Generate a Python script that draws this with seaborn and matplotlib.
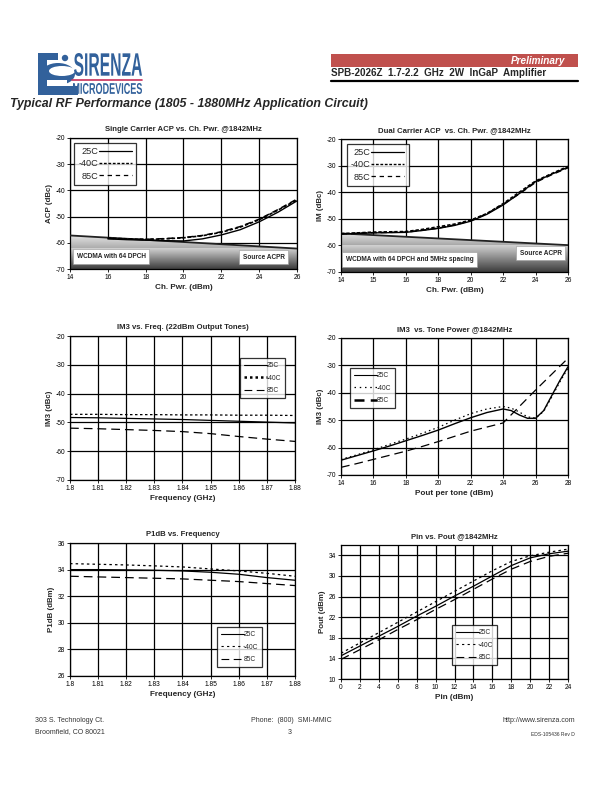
import numpy as np
import matplotlib
matplotlib.use("Agg")
import matplotlib.pyplot as plt
import seaborn as sns
from matplotlib.lines import Line2D
from matplotlib.patches import Rectangle, Polygon, Ellipse, Circle, PathPatch
from matplotlib.colors import LinearSegmentedColormap
from matplotlib.textpath import TextPath
from matplotlib.font_manager import FontProperties
from matplotlib.transforms import Affine2D

# ---- data ----
# single carrier ACP vs channel power
sc_x = [16, 17, 18, 19, 20, 21, 22, 23, 24, 25, 26]
sc_25 = [-58.5, -58.8, -59.0, -59.2, -59.3, -58.5, -57.0, -55.0, -52.0, -48.3, -44.0]
sc_m40 = [-58.2, -58.5, -58.7, -58.5, -58.1, -57.3, -56.0, -54.0, -51.2, -47.5, -43.6]
sc_85 = [-58.3, -58.6, -58.7, -58.4, -58.0, -57.2, -55.8, -53.8, -51.0, -47.3, -43.3]
sc_src_x = [14, 26]
sc_src = [-57.2, -62.2]

# dual carrier ACP (category axis)
dc_ticks = [14, 15, 16, 18, 20, 22, 24, 26]
dc_x = [14, 15, 16, 17, 18, 19, 20, 21, 22, 23, 24, 25, 26]
dc_25 = [-55.7, -55.3, -55.1, -54.4, -53.6, -52.5, -50.9, -48.3, -44.8, -40.5, -36.0, -33.2, -30.6]
dc_m40 = [-55.6, -55.0, -54.8, -54.0, -53.0, -52.0, -50.5, -48.0, -44.3, -40.0, -35.8, -33.0, -30.3]
dc_85 = [-55.7, -55.2, -55.0, -54.3, -53.5, -52.3, -50.7, -48.1, -44.5, -40.6, -36.3, -33.4, -30.8]
dc_src = [-55.5, -59.9]

# IM3 vs frequency
f_x = [1.80, 1.81, 1.82, 1.83, 1.84, 1.85, 1.86, 1.87, 1.88]
f_labels = ["1.8", "1.81", "1.82", "1.83", "1.84", "1.85", "1.86", "1.87", "1.88"]
im_25 = [-48.3, -48.4, -48.6, -48.8, -49.0, -49.3, -49.6, -49.9, -50.2]
im_m40 = [-47.2, -47.2, -47.3, -47.3, -47.4, -47.4, -47.5, -47.5, -47.6]
im_85 = [-52.0, -52.2, -52.5, -52.8, -53.2, -53.9, -54.9, -55.8, -56.6]

# IM3 vs tone power
tp_x = [14, 15, 16, 17, 18, 19, 20, 21, 22, 23, 24, 24.5, 25, 25.5, 26, 26.5, 27, 27.5, 28]
tp_25 = [-64.6, -62.9, -61.2, -59.4, -57.5, -55.6, -53.6, -51.3, -49.1, -47.2, -45.9,
         -46.5, -48.1, -49.3, -49.3, -46.5, -41.0, -35.5, -30.5]
tp_m40 = [-64.3, -62.6, -60.8, -58.8, -56.9, -54.8, -52.6, -50.0, -47.6, -45.9, -45.0,
          -45.6, -47.0, -48.8, -49.2, -46.8, -41.5, -36.0, -31.0]
tp_85 = [-67.2, -65.8, -64.3, -62.8, -61.3, -59.6, -57.8, -55.9, -54.0, -52.5, -51.0,
         -48.0, -45.0, -42.0, -39.0, -36.1, -33.2, -30.3, -27.4]

# P1dB vs frequency
p1_25 = [34.0, 34.0, 33.98, 33.95, 33.9, 33.8, 33.65, 33.4, 33.2]
p1_m40 = [34.45, 34.4, 34.35, 34.28, 34.2, 34.05, 33.9, 33.72, 33.5]
p1_85 = [33.5, 33.45, 33.4, 33.35, 33.3, 33.2, 33.1, 32.95, 32.8]

# Pout vs Pin
pin_x = [0, 2, 4, 6, 8, 10, 12, 14, 16, 18, 20, 22, 24]
po_25 = [14.5, 16.4, 18.3, 20.2, 22.2, 24.1, 26.1, 28.0, 30.0, 32.0, 33.5, 34.3, 34.8]
po_m40 = [15.0, 17.0, 19.0, 21.0, 23.0, 25.0, 27.0, 29.0, 31.0, 32.8, 33.9, 34.6, 35.2]
po_85 = [13.8, 15.7, 17.6, 19.6, 21.5, 23.5, 25.4, 27.4, 29.4, 31.3, 32.8, 33.8, 34.4]

temps = ["25C", "-40C", "85C"]

sns.set_style("white")
plt.rcParams["font.family"] = ["Liberation Sans", "DejaVu Sans"]
plt.rcParams["axes.unicode_minus"] = False

W, H = 612, 792
fig = plt.figure(figsize=(6.12, 7.92), dpi=100)

page = fig.add_axes([0, 0, 1, 1])
page.set_xlim(0, W)
page.set_ylim(H, 0)
page.axis("off")


def px_axes(l, t, r, b):
    return fig.add_axes([l / W, 1 - b / H, (r - l) / W, (b - t) / H])


def style_axes(ax, title, xlabel, ylabel):
    ax.set_title(title, fontsize=5.6, fontweight="bold", pad=5)
    ax.set_xlabel(xlabel, fontsize=5.9, fontweight="bold", labelpad=2)
    ax.set_ylabel(ylabel, fontsize=5.7, fontweight="bold", labelpad=2)
    ax.grid(True, color="black", lw=0.9)
    ax.set_axisbelow(True)
    for s in ax.spines.values():
        s.set_color("black")
        s.set_linewidth(0.9)
    ax.tick_params(labelsize=4.8, length=2, width=0.6, pad=1.5, direction="out",
                   bottom=True, left=True, colors="black")


def gradient(ax, x0, x1, y0, y1, c_top, c_bot, clip=None):
    cm = LinearSegmentedColormap.from_list("g", [c_bot, c_top])
    im = ax.imshow(np.linspace(0, 1, 200).reshape(-1, 1), extent=[x0, x1, y0, y1],
                   origin="lower", aspect="auto", cmap=cm, zorder=2, interpolation="bilinear")
    if clip is not None:
        im.set_clip_path(clip)
    return im


def top_legend(ax, styles, anchor):
    handles = [Line2D([], [], color="black", **st) for st in styles]
    lg = ax.legend(handles, temps, loc="upper left", bbox_to_anchor=anchor, markerfirst=False,
                   fontsize=6.6, handlelength=3.6, handletextpad=0.1, labelspacing=0.35,
                   borderpad=0.45, frameon=True, fancybox=False, borderaxespad=0)
    lg.get_frame().set_edgecolor("black")
    lg.get_frame().set_linewidth(0.9)
    lg.set_zorder(6)


def side_legend(ax, styles, anchor):
    handles = [Line2D([], [], color="black", **st) for st in styles]
    lg = ax.legend(handles, temps, loc="upper left", bbox_to_anchor=anchor,
                   fontsize=4.8, handlelength=3.4, handletextpad=0.0, labelspacing=0.85,
                   borderpad=0.6, frameon=True, fancybox=False, borderaxespad=0)
    lg.get_frame().set_edgecolor("black")
    lg.get_frame().set_linewidth(0.9)
    lg.set_zorder(6)


def box_text(ax, x, y, s, ha="left"):
    ax.text(x, y, s, fontsize=4.7, fontweight="bold", ha=ha, va="center", zorder=5,
            bbox=dict(boxstyle="square,pad=0.55", fc="white", ec="#999999", lw=0.4))


# ---- header ----
blue = "#32619b"
page.add_patch(Rectangle((38, 53), 9, 42, color=blue, lw=0))
page.add_patch(Rectangle((38, 53), 20, 7, color=blue, lw=0))
page.add_patch(Rectangle((38, 86), 40, 9, color=blue, lw=0))
page.add_patch(Ellipse((58, 74), 34, 22, color=blue, lw=0))
page.add_patch(Ellipse((62, 71), 26, 10, color="white", lw=0))
page.add_patch(Rectangle((47, 80), 20, 6, color="white", lw=0))
page.add_patch(Circle((65, 58), 3.2, color=blue, lw=0))


def stretched(s, x0, x1, ytop, ybot, color, weight="bold"):
    tp = TextPath((0, 0), s, size=10, prop=FontProperties(family="Liberation Sans", weight=weight))
    bb = tp.get_extents()
    sx = (x1 - x0) / bb.width
    sy = (ybot - ytop) / bb.height
    tr = Affine2D().translate(-bb.x0, -bb.y0).scale(sx, -sy).translate(x0, ybot) + page.transData
    page.add_patch(PathPatch(tp, transform=tr, color=color, lw=0))


stretched("SIRENZA", 74, 142, 53, 76, blue)
page.plot([72, 142], [79.5, 79.5], color="#c8305a", lw=1.2)
stretched("MICRODEVICES", 73, 142, 83, 94, blue)

page.add_patch(Rectangle((331, 54), 247, 13, color="#c0504d", lw=0))
page.text(565, 60.8, "Preliminary", color="white", fontsize=7.2, fontweight="bold",
          fontstyle="italic", ha="right", va="center")
page.text(331, 73.5, "SPB-2026Z  1.7-2.2  GHz  2W  InGaP  Amplifier", fontsize=7.1,
          fontweight="bold", ha="left", va="center")
page.plot([331, 578], [80.5, 80.5], color="black", lw=1.6)
page.text(10, 104, "Typical RF Performance (1805 - 1880MHz Application Circuit)", fontsize=8.9,
          fontweight="bold", fontstyle="italic", ha="left", va="center")

# ---- footer ----
page.text(35, 721, "303 S. Technology Ct.", fontsize=5, ha="left", va="center", color="#333333")
page.text(35, 732, "Broomfield, CO 80021", fontsize=5, ha="left", va="center", color="#333333")
page.text(291, 721, "Phone:  (800)  SMI-MMIC", fontsize=5, ha="center", va="center", color="#333333")
page.text(290, 732, "3", fontsize=5, ha="center", va="center", color="#333333")
page.text(575, 721, "http://www.sirenza.com", fontsize=5, ha="right", va="center", color="#333333")
page.text(575, 734, "EDS-105436 Rev D", fontsize=3.6, ha="right", va="center", color="#333333")

# ---- chart 1: single carrier ACP ----
ax1 = px_axes(70, 138, 297, 269)
poly = Polygon([(14, sc_src[0]), (26, sc_src[1]), (26, -62.2), (14, -62.2)], closed=True,
               transform=ax1.transData)
gradient(ax1, 14, 26, -62.2, -57.2, "#e4e4e4", "#a8a8a8", clip=poly)
gradient(ax1, 14, 26, -70, -62.2, "#d2d2d2", "#3c3c3c")
sns.lineplot(x=sc_src_x, y=sc_src, ax=ax1, color="#222222", lw=1.3, zorder=3)
sns.lineplot(x=sc_x, y=sc_m40, ax=ax1, color="black", lw=1.2, linestyle=(0, (2, 1.2)), zorder=4)
sns.lineplot(x=sc_x, y=sc_85, ax=ax1, color="black", lw=1.1, linestyle=(0, (4, 2.5)), zorder=4)
sns.lineplot(x=sc_x, y=sc_25, ax=ax1, color="black", lw=1.0, zorder=4)
ax1.set_xlim(14, 26)
ax1.set_ylim(-70, -20)
ax1.set_xticks(range(14, 27, 2))
ax1.set_yticks(range(-70, -19, 10))
style_axes(ax1, "Single Carrier ACP vs. Ch. Pwr. @1842MHz", "Ch. Pwr. (dBm)", "ACP (dBc)")
box_text(ax1, 14.35, -65.2, "WCDMA with 64 DPCH")
box_text(ax1, 25.35, -65.5, "Source ACPR", ha="right")
top_legend(ax1, [dict(lw=0.9), dict(lw=1.0, linestyle=(0, (2, 1.2))),
                 dict(lw=0.9, linestyle=(0, (3.5, 3)))], (0.018, 0.962))

# ---- chart 2: dual carrier ACP ----
ax2 = px_axes(341, 139, 568, 272)
cat = np.arange(len(dc_ticks))
dc_pos = np.interp(dc_x, dc_ticks, cat)
poly2 = Polygon([(0, dc_src[0]), (7, dc_src[1]), (7, -60.0), (0, -60.0)], closed=True,
                transform=ax2.transData)
gradient(ax2, 0, 7, -60, -55.5, "#e4e4e4", "#a8a8a8", clip=poly2)
gradient(ax2, 0, 7, -70, -60, "#d2d2d2", "#3c3c3c")
sns.lineplot(x=[0, 7], y=dc_src, ax=ax2, color="#222222", lw=1.3, zorder=3)
sns.lineplot(x=dc_pos, y=dc_m40, ax=ax2, color="black", lw=1.2, linestyle=(0, (2, 1.2)), zorder=4)
sns.lineplot(x=dc_pos, y=dc_85, ax=ax2, color="black", lw=1.1, linestyle=(0, (4, 2.5)), zorder=4)
sns.lineplot(x=dc_pos, y=dc_25, ax=ax2, color="black", lw=1.0, zorder=4)
ax2.set_xlim(0, 7)
ax2.set_ylim(-70, -20)
ax2.set_xticks(cat)
ax2.set_xticklabels([str(t) for t in dc_ticks])
ax2.set_yticks(range(-70, -19, 10))
style_axes(ax2, "Dual Carrier ACP  vs. Ch. Pwr. @1842MHz", "Ch. Pwr. (dBm)", "IM (dBc)")
box_text(ax2, 0.15, -65.3, "WCDMA with 64 DPCH and 5MHz spacing")
box_text(ax2, 6.8, -63.0, "Source ACPR", ha="right")
top_legend(ax2, [dict(lw=0.9), dict(lw=1.0, linestyle=(0, (2, 1.2))),
                 dict(lw=0.9, linestyle=(0, (3.5, 3)))], (0.025, 0.962))

# ---- chart 3: IM3 vs frequency ----
ax3 = px_axes(70, 336, 295, 480)
sns.lineplot(x=f_x, y=im_m40, ax=ax3, color="black", lw=0.9, linestyle=(0, (2, 2)))
sns.lineplot(x=f_x, y=im_85, ax=ax3, color="black", lw=0.9, linestyle=(0, (7, 4)))
sns.lineplot(x=f_x, y=im_25, ax=ax3, color="black", lw=0.9)
ax3.set_xlim(1.8, 1.88)
ax3.set_ylim(-70, -20)
ax3.set_xticks(f_x)
ax3.set_xticklabels(f_labels)
ax3.set_yticks(range(-70, -19, 10))
style_axes(ax3, "IM3 vs. Freq. (22dBm Output Tones)", "Frequency (GHz)", "IM3 (dBc)")
side_legend(ax3, [dict(lw=0.8), dict(lw=1.8, linestyle=(0, (1, 1.2))),
                  dict(lw=0.8, linestyle=(0, (7, 4)))], (0.756, 0.847))

# ---- chart 4: IM3 vs tone power ----
ax4 = px_axes(341, 338, 568, 475)
sns.lineplot(x=tp_x, y=tp_m40, ax=ax4, color="black", lw=0.9, linestyle=(0, (1.2, 2.5)))
sns.lineplot(x=tp_x, y=tp_85, ax=ax4, color="black", lw=0.9, linestyle=(0, (7, 4)))
sns.lineplot(x=tp_x, y=tp_25, ax=ax4, color="black", lw=1.0)
ax4.set_xlim(14, 28)
ax4.set_ylim(-70, -20)
ax4.set_xticks(range(14, 29, 2))
ax4.set_yticks(range(-70, -19, 10))
style_axes(ax4, "IM3  vs. Tone Power @1842MHz", "Pout per tone (dBm)", "IM3 (dBc)")
side_legend(ax4, [dict(lw=0.8), dict(lw=0.9, linestyle=(0, (1.2, 3))),
                  dict(lw=1.8, linestyle=(0, (4, 2.5)))], (0.040, 0.78))

# ---- chart 5: P1dB vs frequency ----
ax5 = px_axes(70, 543, 295, 676)
sns.lineplot(x=f_x, y=p1_m40, ax=ax5, color="black", lw=0.9, linestyle=(0, (2, 2.5)))
sns.lineplot(x=f_x, y=p1_85, ax=ax5, color="black", lw=0.9, linestyle=(0, (7, 4)))
sns.lineplot(x=f_x, y=p1_25, ax=ax5, color="black", lw=0.9)
ax5.set_xlim(1.8, 1.88)
ax5.set_ylim(26, 36)
ax5.set_xticks(f_x)
ax5.set_xticklabels(f_labels)
ax5.set_yticks(range(26, 37, 2))
style_axes(ax5, "P1dB vs. Frequency", "Frequency (GHz)", "P1dB (dBm)")
side_legend(ax5, [dict(lw=0.8), dict(lw=0.8, linestyle=(0, (2, 3))),
                  dict(lw=0.8, linestyle=(0, (7, 4)))], (0.653, 0.368))

# ---- chart 6: Pout vs Pin ----
ax6 = px_axes(341, 545, 568, 679)
sns.lineplot(x=pin_x, y=po_m40, ax=ax6, color="black", lw=0.9, linestyle=(0, (2, 2.5)))
sns.lineplot(x=pin_x, y=po_85, ax=ax6, color="black", lw=0.9, linestyle=(0, (7, 4)))
sns.lineplot(x=pin_x, y=po_25, ax=ax6, color="black", lw=0.9)
ax6.set_xlim(0, 24)
ax6.set_ylim(10, 36)
ax6.set_xticks(range(0, 25, 2))
ax6.set_yticks(range(10, 35, 4))
style_axes(ax6, "Pin vs. Pout @1842MHz", "Pin (dBm)", "Pout (dBm)")
side_legend(ax6, [dict(lw=0.8), dict(lw=0.8, linestyle=(0, (2, 3))),
                  dict(lw=0.8, linestyle=(0, (7, 4)))], (0.489, 0.403))

fig.savefig("out.png", dpi=100)
